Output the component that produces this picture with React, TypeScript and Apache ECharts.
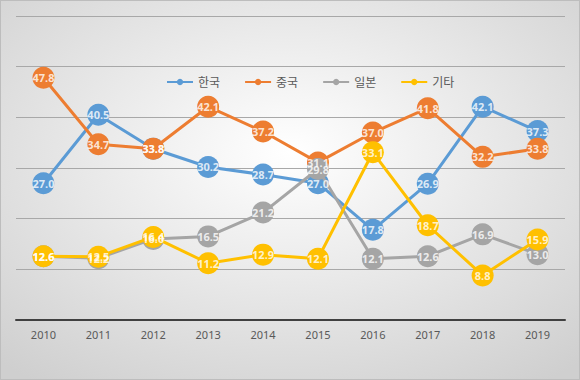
import React, { useEffect, useRef } from "react";
import * as echarts from "echarts";

const years = ["2010", "2011", "2012", "2013", "2014", "2015", "2016", "2017", "2018", "2019"];
const korea = [27.0, 40.5, 33.8, 30.2, 28.7, 27.0, 17.8, 26.9, 42.1, 37.3];
const china = [47.8, 34.7, 33.8, 42.1, 37.2, 31.1, 37.0, 41.8, 32.2, 33.8];
const japan = [12.6, 12.2, 16.0, 16.5, 21.2, 29.8, 12.1, 12.6, 16.9, 13.0];
const other = [12.6, 12.5, 16.4, 11.2, 12.9, 12.1, 33.1, 18.7, 8.8, 15.9];

const seriesNames = ["한국", "중국", "일본", "기타"];
const seriesColors = ["#5B9BD5", "#ED7D31", "#A5A5A5", "#FFC000"];
const seriesData = [korea, china, japan, other];

export default function App() {
  const ref = useRef<HTMLDivElement>(null);
  useEffect(() => {
    document.body.style.margin = "0";
    const chart = echarts.init(ref.current!, null, { renderer: "svg" });
    const font = "'Noto Sans', 'Noto Sans CJK KR', sans-serif";
    const lineSeries = seriesNames.map((name, i) => ({
      name,
      type: "line",
      data: seriesData[i],
      symbol: "circle",
      symbolSize: 22,
      color: seriesColors[i],
      lineStyle: { width: 3, color: seriesColors[i] },
      itemStyle: { color: seriesColors[i] },
      label: { show: false },
      z: 2 + i,
    }));
    const labelSeries = seriesNames.map((name, i) => ({
      name: name + "-label",
      type: "scatter",
      data: seriesData[i],
      symbol: "circle",
      symbolSize: 22,
      silent: true,
      itemStyle: { color: "rgba(0,0,0,0)" },
      label: {
        show: true,
        position: "inside",
        color: "#ffffff",
        fontSize: 11,
        fontWeight: "bold",
        fontFamily: font,
        formatter: (p: any) => Number(p.value).toFixed(1),
      },
      z: 20 + i,
    }));
    chart.setOption({
      animation: false,
      backgroundColor: {
        type: "radial",
        x: 0.5,
        y: 0.4,
        r: 0.75,
        colorStops: [
          { offset: 0, color: "#ffffff" },
          { offset: 1, color: "#cfcfcf" },
        ],
      },
      textStyle: { fontFamily: font },
      legend: {
        top: 70,
        left: 160,
        itemWidth: 26,
        itemHeight: 8,
        itemGap: 24,
        textStyle: { fontSize: 12, color: "#595959", fontFamily: font },
        data: seriesNames,
      },
      grid: { left: 15, right: 14, top: 15, bottom: 59 },
      xAxis: {
        type: "category",
        data: years,
        boundaryGap: true,
        axisLine: { lineStyle: { color: "#404040", width: 2 } },
        axisTick: { show: false },
        axisLabel: { color: "#595959", fontSize: 11, margin: 9, fontFamily: font },
      },
      yAxis: {
        type: "value",
        min: 0,
        max: 60,
        interval: 10,
        axisLabel: { show: false },
        axisLine: { show: false },
        axisTick: { show: false },
        splitLine: { lineStyle: { color: "#a8a8a8", width: 1 } },
      },
      series: [...lineSeries, ...labelSeries],
    });
    return () => chart.dispose();
  }, []);
  return (
    <div
      ref={ref}
      style={{ width: 580, height: 380, boxSizing: "border-box", border: "1px solid #bdbdbd" }}
    />
  );
}
